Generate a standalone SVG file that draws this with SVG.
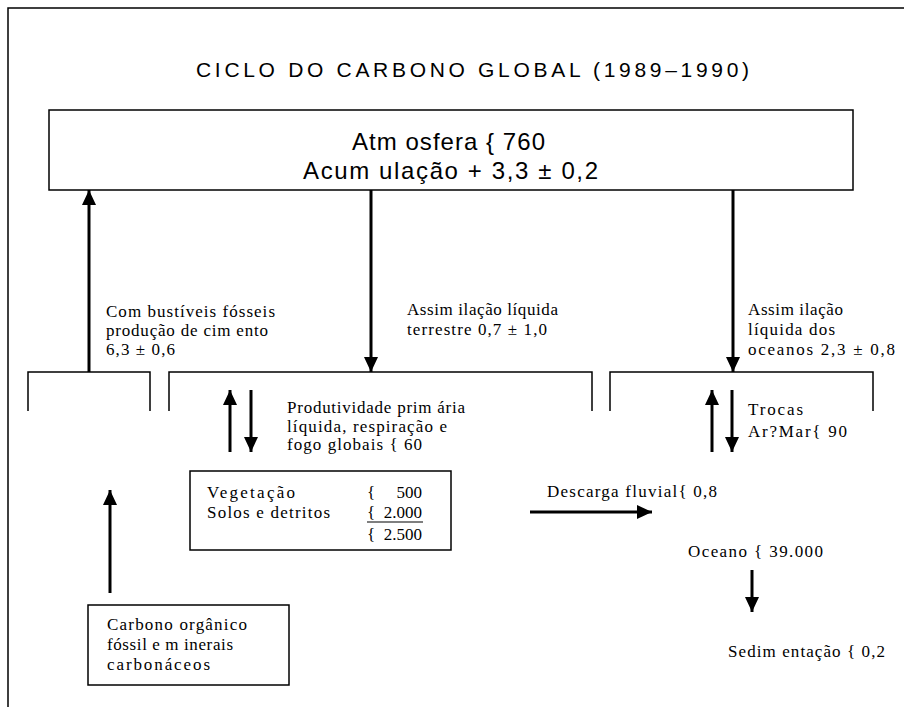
<svg xmlns="http://www.w3.org/2000/svg" width="904" height="707" viewBox="0 0 904 707">
<style>
.ln{fill:none;stroke:#000;stroke-width:1.5}
.ar{fill:none;stroke:#000;stroke-width:3;marker-end:url(#ah)}
.box{fill:#fff;stroke:#000;stroke-width:1.5}
.t{font-family:"Liberation Serif","Times New Roman",serif;font-size:17px;fill:#000}
.s{font-family:"Liberation Sans Narrow","Liberation Sans",Arial,sans-serif;fill:#000}
</style>
<defs>
<marker id="ah" markerUnits="userSpaceOnUse" markerWidth="15" markerHeight="14" refX="15" refY="7" orient="auto">
<path d="M0,0 L15,7 L0,14 z" fill="#000"/>
</marker>
</defs>
<rect width="904" height="707" fill="#fff"/>
<path class="ln" d="M8,707 V8 H904"/>
<text class="s" x="196" y="77" font-size="21" textLength="553">CICLO DO CARBONO GLOBAL (1989–1990)</text>

<g id="atmosfera">
<rect class="box" x="49" y="110" width="804" height="80"/>
<text class="s" x="352" y="150" font-size="24" textLength="193">Atm osfera { 760</text>
<text class="s" x="303" y="179" font-size="24" textLength="295">Acum ulação + 3,3 ± 0,2</text>
</g>

<g id="vegetacao">
<rect class="box" x="190" y="471" width="261" height="79"/>
<text class="t" x="207" y="498" textLength="88">Vegetação</text>
<text class="t" x="367" y="498">{</text>
<text class="t" x="422" y="498" text-anchor="end">500</text>
<text class="t" x="207" y="518" textLength="123">Solos e detritos</text>
<text class="t" x="367" y="518">{</text>
<text class="t" x="422" y="518" text-anchor="end">2.000</text>
<line x1="367" y1="522" x2="423" y2="522" stroke="#000" stroke-width="1.2"/>
<text class="t" x="367" y="540">{</text>
<text class="t" x="422" y="540" text-anchor="end">2.500</text>
</g>

<g id="carbono-fossil">
<rect class="box" x="88" y="605" width="201" height="80"/>
<text class="t" x="107" y="630" textLength="140">Carbono orgânico</text>
<text class="t" x="107" y="650" textLength="126">fóssil e m inerais</text>
<text class="t" x="107" y="670" textLength="103">carbonáceos</text>
</g>

<g id="oceano">
<text class="t" x="688" y="557" textLength="135">Oceano { 39.000</text>
</g>

<g id="sedimentacao">
<text class="t" x="728" y="657" textLength="157">Sedim entação { 0,2</text>
</g>

<g id="connectors">
<path class="ln" d="M28,411 V372 H150 V411"/>
<path class="ln" d="M169,411 V372 H592 V411"/>
<path class="ln" d="M610,411 V372 H873 V411"/>
<line class="ar" x1="89" y1="372" x2="89" y2="190"/>
<line class="ar" x1="371" y1="190" x2="371" y2="372"/>
<line class="ar" x1="733" y1="190" x2="733" y2="372"/>
<line class="ar" x1="230" y1="452" x2="230" y2="390"/>
<line class="ar" x1="251" y1="390" x2="251" y2="452"/>
<line class="ar" x1="712" y1="452" x2="712" y2="390"/>
<line class="ar" x1="732" y1="390" x2="732" y2="452"/>
<line class="ar" x1="110" y1="593" x2="110" y2="490"/>
<line class="ar" x1="530" y1="512" x2="652" y2="512"/>
<line class="ar" x1="752" y1="570" x2="752" y2="612"/>
</g>

<g id="labels">
<text class="t" x="106" y="317" textLength="169">Com bustíveis fósseis</text>
<text class="t" x="106" y="336" textLength="162">produção de cim ento</text>
<text class="t" x="106" y="355" textLength="69">6,3 ± 0,6</text>
<text class="t" x="407" y="315" textLength="151">Assim ilação líquida</text>
<text class="t" x="407" y="335" textLength="140">terrestre 0,7 ± 1,0</text>
<text class="t" x="748" y="315" textLength="95">Assim ilação</text>
<text class="t" x="748" y="335" textLength="87">líquida dos</text>
<text class="t" x="748" y="355" textLength="147">oceanos  2,3 ± 0,8</text>
<text class="t" x="287" y="413" textLength="178">Produtividade prim ária</text>
<text class="t" x="287" y="432" textLength="160">líquida, respiração e</text>
<text class="t" x="287" y="450" textLength="135">fogo globais { 60</text>
<text class="t" x="748" y="415" textLength="55">Trocas</text>
<text class="t" x="748" y="437" textLength="99">Ar?Mar{ 90</text>
<text class="t" x="547" y="497" textLength="170">Descarga fluvial{ 0,8</text>
</g>
</svg>
